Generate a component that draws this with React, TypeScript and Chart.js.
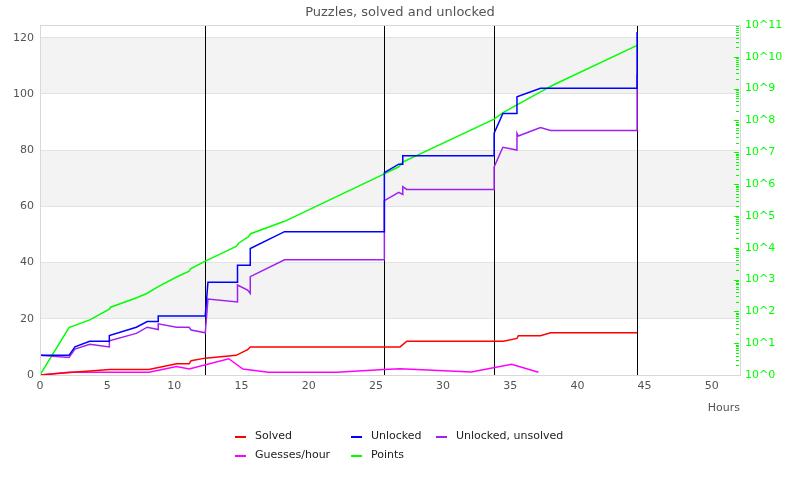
import { useEffect, useRef } from "react";
import { Chart, registerables } from "chart.js";
Chart.register(...registerables);

const FONT = "'DejaVu Sans', 'Liberation Sans', sans-serif";

// ---- data ----
const solvedHours = [0, 2.2, 5.2, 8.1, 10.17, 11.1, 11.25, 12.3, 14.6, 15.45, 15.65, 26.8, 27.3, 34.5, 35.5, 35.6, 37.25, 38.0, 44.44];
const solvedCounts = [0, 0.9, 2, 2, 4, 4, 5.1, 6, 7, 9, 10, 10, 12, 12, 13, 14, 14, 15, 15];

const unlockedHours = [0, 2.16, 2.6, 3.7, 5.16, 5.16, 7.17, 7.98, 8.8, 8.8, 12.3, 12.5, 14.7, 14.7, 15.65, 15.65, 18.2, 25.63, 25.63, 26.7, 27.0, 27.0, 33.8, 33.8, 34.45, 35.5, 35.5, 37.25, 44.44, 44.44];
const unlockedCounts = [7, 7, 10, 12, 12, 14, 17, 19, 19, 21, 21, 33, 33, 39, 39, 45, 51, 51, 72, 75, 75, 78, 78, 86, 93, 93, 99, 102, 102, 122];

const unsolvedHours = [0, 2.16, 2.6, 3.7, 5.16, 5.16, 7.17, 7.98, 8.8, 8.8, 10.17, 11.1, 11.25, 12.3, 12.5, 14.7, 14.7, 15.45, 15.65, 15.65, 18.2, 25.63, 25.63, 26.7, 27.0, 27.0, 27.3, 33.8, 33.8, 34.45, 35.5, 35.5, 35.6, 37.25, 38.0, 44.44, 44.44];
const unsolvedCounts = [7, 6.2, 9.2, 10.9, 10, 12.2, 14.8, 17, 16.2, 18.2, 17, 17, 16, 15, 27, 26, 32, 30.2, 29, 35, 41, 41, 62, 65, 64.2, 67, 66, 66, 74, 81, 80, 86, 85, 88, 87, 87, 107];

const guessHours = [0, 2.16, 8.1, 10.17, 11.1, 14.05, 15.1, 17.0, 22.1, 25.6, 26.8, 32.1, 35.1, 37.1];
const guessRates = [0, 1, 1, 3, 2.1, 5.8, 2.1, 1, 1, 2, 2.2, 1.07, 3.8, 1];

const pointsHours = [0, 2.16, 3.7, 5.16, 5.25, 7.2, 7.98, 8.8, 10.17, 11.1, 11.2, 12.3, 14.1, 14.6, 14.8, 15.5, 15.68, 18.2, 25.63, 26.7, 27.0, 33.8, 34.5, 35.5, 37.25, 38.2, 44.44];
const pointsTotals = [1, 31, 54, 117, 135, 269, 372, 603, 1200, 1820, 2190, 3800, 8700, 11000, 14100, 21900, 27500, 67600, 2.1e6, 3.5e6, 4.9e6, 1.1e8, 1.8e8, 3.1e8, 7.9e8, 1.3e9, 2.3e10];

const seriesLabels = ["Solved", "Unlocked", "Unlocked, unsolved", "Guesses/hour", "Points"];
const seriesColors = ["#ff0000", "#0000ff", "#a020f0", "#ff00ff", "#00ff00"];

const markerHours = [12.3, 25.63, 33.8, 44.44];
const shadedBands = [[20, 40], [60, 80], [100, 120]];
const hourTicks = [0, 5, 10, 15, 20, 25, 30, 35, 40, 45, 50];
const countTicks = [0, 20, 40, 60, 80, 100, 120];
const pointsExponents = [0, 1, 2, 3, 4, 5, 6, 7, 8, 9, 10, 11];

const toPoints = (xs: number[], ys: number[]) => xs.map((x, i) => ({ x, y: ys[i] }));

export default function App() {
  const ref = useRef<HTMLCanvasElement>(null);

  useEffect(() => {
    document.body.style.margin = "0";
    const canvas = ref.current!;

    const bands = {
      id: "bands",
      beforeDraw(chart: any) {
        const { ctx, chartArea: a, scales } = chart;
        const y = scales.y;
        ctx.save();
        ctx.fillStyle = "#f3f3f3";
        for (const [lo, hi] of shadedBands) {
          const t = y.getPixelForValue(hi);
          const b = y.getPixelForValue(lo);
          ctx.fillRect(a.left, t, a.right - a.left, b - t);
        }
        ctx.restore();
      },
    };

    const markers = {
      id: "markers",
      beforeDatasetsDraw(chart: any) {
        const { ctx, chartArea: a, scales } = chart;
        ctx.save();
        ctx.strokeStyle = "#000000";
        ctx.lineWidth = 1;
        for (const h of markerHours) {
          const px = Math.round(scales.x.getPixelForValue(h)) + 0.5;
          ctx.beginPath();
          ctx.moveTo(px, a.top);
          ctx.lineTo(px, a.bottom);
          ctx.stroke();
        }
        ctx.restore();
      },
    };

    const frame = {
      id: "frame",
      afterDatasetsDraw(chart: any) {
        const { ctx, chartArea: a, scales } = chart;
        ctx.save();
        ctx.strokeStyle = "#00ff00";
        ctx.lineWidth = 1;
        const y2 = scales.y2;
        for (let e = 0; e < pointsExponents.length - 1; e++) {
          for (let m = 1; m <= 9; m++) {
            const v = m * Math.pow(10, pointsExponents[e]);
            const py = Math.round(y2.getPixelForValue(v)) + 0.5;
            const len = m === 1 ? 5 : 3;
            ctx.beginPath();
            ctx.moveTo(a.right - 1 - len, py);
            ctx.lineTo(a.right - 1, py);
            ctx.stroke();
          }
        }
        ctx.strokeStyle = "#d8d8d8";
        ctx.lineWidth = 1;
        ctx.strokeRect(Math.round(a.left) + 0.5, Math.round(a.top) + 0.5, Math.round(a.right - a.left), Math.round(a.bottom - a.top));
        ctx.restore();
      },
    };

    const legendGrid = {
      id: "legendGrid",
      afterDraw(chart: any) {
        const { ctx } = chart;
        const colX = [235, 351, 436];
        const rowY = [436, 455];
        ctx.save();
        ctx.font = `11px ${FONT}`;
        ctx.textBaseline = "middle";
        ctx.textAlign = "left";
        seriesLabels.forEach((label, i) => {
          const x = colX[i % 3];
          const y = rowY[Math.floor(i / 3)];
          ctx.fillStyle = seriesColors[i];
          ctx.fillRect(x, y, 11, 2);
          ctx.fillStyle = "#222222";
          ctx.fillText(label, x + 20, y);
        });
        ctx.restore();
      },
    };

    const mk = (i: number, data: any[], axis = "y") => ({
      label: seriesLabels[i],
      data,
      borderColor: seriesColors[i],
      backgroundColor: seriesColors[i],
      borderWidth: 1.5,
      pointRadius: 0,
      tension: 0,
      fill: false,
      yAxisID: axis,
    });

    const chart = new Chart(canvas, {
      type: "line",
      data: {
        datasets: [
          mk(0, toPoints(solvedHours, solvedCounts)),
          mk(1, toPoints(unlockedHours, unlockedCounts)),
          mk(2, toPoints(unsolvedHours, unsolvedCounts)),
          mk(3, toPoints(guessHours, guessRates)),
          mk(4, toPoints(pointsHours, pointsTotals), "y2"),
        ] as any,
      },
      options: {
        responsive: false,
        animation: false,
        events: [],
        layout: { padding: { top: 0, left: 0, right: 0, bottom: 80 } },
        plugins: {
          legend: { display: false },
          tooltip: { enabled: false },
          title: {
            display: true,
            text: "Puzzles, solved and unlocked",
            color: "#545454",
            font: { family: FONT, size: 13, weight: "normal" },
            padding: { top: 5, bottom: 4.4 },
          },
        },
        scales: {
          x: {
            type: "linear",
            min: 0,
            max: 52.1,
            afterBuildTicks: (s: any) => {
              s.ticks = hourTicks.map((v) => ({ value: v }));
            },
            ticks: { autoSkip: false, color: "#545454", font: { family: FONT, size: 11 }, padding: 5, maxRotation: 0 },
            grid: { display: false, drawTicks: false },
            border: { display: false },
            title: {
              display: true,
              text: "Hours",
              align: "end",
              color: "#545454",
              font: { family: FONT, size: 11 },
              padding: { top: 0, bottom: 5 },
            },
            afterFit: (s: any) => { s.height = 45; },
          },
          y: {
            type: "linear",
            position: "left",
            min: 0,
            max: 124.5,
            afterBuildTicks: (s: any) => {
              s.ticks = countTicks.map((v) => ({ value: v }));
            },
            ticks: { autoSkip: false, color: "#545454", font: { family: FONT, size: 11 }, padding: 6 },
            grid: { color: "#e2e2e2", drawTicks: false },
            border: { display: false },
            afterFit: (s: any) => { s.width = 40; },
          },
          y2: {
            type: "logarithmic",
            position: "right",
            min: 1,
            max: 1e11,
            afterBuildTicks: (s: any) => {
              s.ticks = pointsExponents.map((e) => ({ value: Math.pow(10, e) }));
            },
            ticks: {
              autoSkip: false,
              color: "#00ff00",
              font: { family: FONT, size: 11 },
              padding: 5,
              callback: (v: any) => "10^" + Math.round(Math.log10(Number(v))),
            },
            grid: { display: false, drawTicks: false },
            border: { display: false },
            afterFit: (s: any) => { s.width = 60; },
          },
        },
      } as any,
      plugins: [bands, markers, frame, legendGrid],
    });

    return () => chart.destroy();
  }, []);

  return <canvas ref={ref} width={800} height={500} style={{ display: "block", width: 800, height: 500 }} />;
}
